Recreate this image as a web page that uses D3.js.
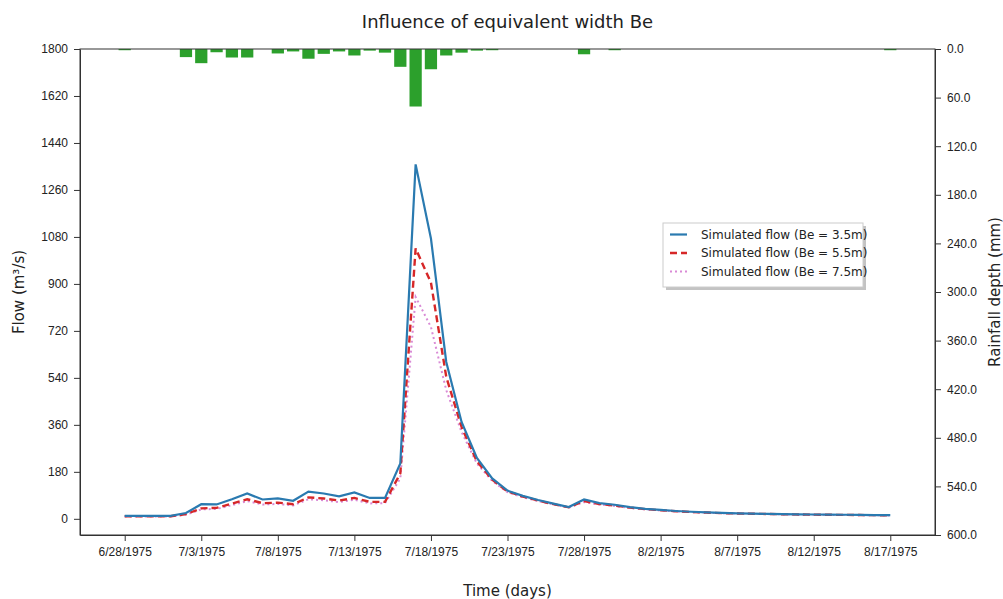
<!DOCTYPE html>
<html>
<head>
<meta charset="utf-8">
<script src="https://cdn.jsdelivr.net/npm/d3@7"></script>
<style>
  body { margin: 0; background: #fff; }
  svg { font-family: "DejaVu Sans", sans-serif; }
  .axis path, .axis line { stroke: #333; }
  .axis text { fill: #222; font-size: 12px; }
</style>
</head>
<body>
<div id="chart"></div>
<script>
// daily dates 6/28/1975 .. 8/17/1975
const dates = [
  "6/28/1975","6/29/1975","6/30/1975","7/1/1975","7/2/1975","7/3/1975","7/4/1975","7/5/1975",
  "7/6/1975","7/7/1975","7/8/1975","7/9/1975","7/10/1975","7/11/1975","7/12/1975","7/13/1975",
  "7/14/1975","7/15/1975","7/16/1975","7/17/1975","7/18/1975","7/19/1975","7/20/1975","7/21/1975",
  "7/22/1975","7/23/1975","7/24/1975","7/25/1975","7/26/1975","7/27/1975","7/28/1975","7/29/1975",
  "7/30/1975","7/31/1975","8/1/1975","8/2/1975","8/3/1975","8/4/1975","8/5/1975","8/6/1975",
  "8/7/1975","8/8/1975","8/9/1975","8/10/1975","8/11/1975","8/12/1975","8/13/1975","8/14/1975",
  "8/15/1975","8/16/1975","8/17/1975"
];

// simulated flow, Be = 3.5 m
const flowBe35 = [
  11, 11, 11, 11, 22, 56, 55, 75, 97, 74, 78, 69, 104, 97, 86, 101,
  80, 80, 212, 1358, 1074, 601, 371, 233, 155, 108, 88, 72, 58, 45, 74, 60,
  54, 45, 38, 34, 30, 27, 25, 23, 21, 20, 19, 18, 17, 16.5, 16, 15.5,
  15, 14.5, 14
];
// simulated flow, Be = 5.5 m
const flowBe55 = [
  10, 10, 10, 10, 18, 40, 42, 58, 75, 60, 62, 56, 82, 78, 70, 80,
  65, 65, 174, 1036, 905, 544, 352, 220, 150, 105, 85, 70, 56, 44, 68, 57,
  51, 43, 37, 33, 29, 26, 24, 22, 20.5, 19.5, 18.5, 17.5, 16.5, 16, 15.5, 15,
  14.5, 14, 13.5
];
// simulated flow, Be = 7.5 m
const flowBe75 = [
  9, 9, 9, 9, 16, 36, 38, 52, 68, 55, 57, 51, 75, 71, 64, 73,
  59, 60, 155, 850, 735, 493, 333, 212, 145, 102, 83, 68, 55, 43, 64, 55,
  49, 42, 36, 32, 28, 25.5, 23.5, 21.5, 20, 19, 18, 17, 16, 15.5, 15, 14.5,
  14, 13.5, 13
];
// daily rainfall depth (mm)
const rainfall = [
  1.5, 0, 0, 0, 10, 17.5, 4, 10.5, 10.5, 0, 5.5, 3, 12, 6, 3, 8,
  2, 4.5, 22, 71, 25, 8, 4.5, 2, 1.5, 0, 0, 0, 0, 0, 6.5, 0,
  1.5, 0, 0, 0, 0, 0, 0, 0, 0, 0, 0, 0, 0, 0, 0, 0,
  0, 0, 1.5
];

const seriesNames = ["Simulated flow (Be = 3.5m)", "Simulated flow (Be = 5.5m)", "Simulated flow (Be = 7.5m)"];
const flowTicks = [0, 180, 360, 540, 720, 900, 1080, 1260, 1440, 1620, 1800];
const rainTicks = [0, 60, 120, 180, 240, 300, 360, 420, 480, 540, 600];

const W = 1003, H = 599;
const margin = {top: 49, right: 68, bottom: 64, left: 80};

const parse = d3.timeParse("%m/%d/%Y");
const days = dates.map(parse);
const DAY = 864e5;

const svg = d3.select("#chart").append("svg")
  .attr("width", W).attr("height", H);

const x = d3.scaleTime()
  .domain([new Date(+days[0] - 2.92 * DAY), new Date(+days[days.length - 1] + 2.92 * DAY)])
  .range([margin.left, W - margin.right]);
const y = d3.scaleLinear().domain([-62, 1800]).range([H - margin.bottom, margin.top]);
const yR = d3.scaleLinear().domain([0, 600]).range([margin.top, H - margin.bottom]);

// rainfall bars hanging from the top
svg.append("g").selectAll("rect")
  .data(rainfall)
  .join("rect")
  .attr("x", (d, i) => x(new Date(+days[i] - 0.4 * DAY)))
  .attr("width", (d, i) => x(new Date(+days[i] + 0.4 * DAY)) - x(new Date(+days[i] - 0.4 * DAY)))
  .attr("y", yR(0))
  .attr("height", d => yR(d) - yR(0))
  .attr("fill", "#2ca02c");

// flow lines
const styles = [
  {data: flowBe35, color: "#2a7ab0", width: 2.2, dash: null},
  {data: flowBe55, color: "#d62728", width: 2.4, dash: "7,4"},
  {data: flowBe75, color: "#d98ad6", width: 2, dash: "2,3"}
];
const line = d3.line().x((d, i) => x(days[i])).y(d => y(d));

styles.slice().reverse().forEach(s => {
  svg.append("path")
    .datum(s.data)
    .attr("fill", "none")
    .attr("stroke", s.color)
    .attr("stroke-width", s.width)
    .attr("stroke-dasharray", s.dash)
    .attr("d", line);
});

// axes
const tickDays = days.filter((d, i) => i % 5 === 0);
svg.append("g").attr("class", "axis")
  .attr("transform", `translate(0,${H - margin.bottom})`)
  .call(d3.axisBottom(x).tickValues(tickDays).tickFormat(d3.timeFormat("%-m/%-d/%Y")).tickSizeOuter(0).tickPadding(6));

svg.append("g").attr("class", "axis")
  .attr("transform", `translate(${margin.left},0)`)
  .call(d3.axisLeft(y).tickValues(flowTicks).tickFormat(d3.format("d")).tickSizeOuter(0).tickPadding(6));

svg.append("g").attr("class", "axis")
  .attr("transform", `translate(${W - margin.right},0)`)
  .call(d3.axisRight(yR).tickValues(rainTicks).tickFormat(d3.format(".1f")).tickSizeOuter(0).tickPadding(6));

// frame
svg.append("rect")
  .attr("x", margin.left).attr("y", margin.top)
  .attr("width", W - margin.left - margin.right)
  .attr("height", H - margin.top - margin.bottom)
  .attr("fill", "none").attr("stroke", "#333");

// titles
svg.append("text")
  .attr("x", (margin.left + W - margin.right) / 2).attr("y", 28)
  .attr("text-anchor", "middle").attr("font-size", 18).attr("fill", "#222")
  .text("Influence of equivalent width Be");

svg.append("text")
  .attr("x", (margin.left + W - margin.right) / 2).attr("y", 596)
  .attr("text-anchor", "middle").attr("font-size", 15).attr("fill", "#222")
  .text("Time (days)");

svg.append("text")
  .attr("transform", `translate(24,${(margin.top + H - margin.bottom) / 2}) rotate(-90)`)
  .attr("text-anchor", "middle").attr("font-size", 15).attr("fill", "#222")
  .text("Flow (m³/s)");

svg.append("text")
  .attr("transform", `translate(1000,${(margin.top + H - margin.bottom) / 2}) rotate(-90)`)
  .attr("text-anchor", "middle").attr("font-size", 15).attr("fill", "#222")
  .text("Rainfall depth (mm)");

// legend
const lg = svg.append("g").attr("transform", "translate(663,223)");
lg.append("rect").attr("x", 3).attr("y", 3).attr("width", 200).attr("height", 64)
  .attr("fill", "#888").attr("opacity", 0.5);
lg.append("rect").attr("width", 200).attr("height", 64)
  .attr("fill", "#fff").attr("stroke", "#ccc");
styles.forEach((s, i) => {
  const yy = 11.5 + i * 18.5;
  lg.append("line")
    .attr("x1", 7).attr("x2", 24).attr("y1", yy).attr("y2", yy)
    .attr("stroke", s.color).attr("stroke-width", s.width)
    .attr("stroke-dasharray", s.dash);
  lg.append("text")
    .attr("x", 38).attr("y", yy + 4)
    .attr("font-size", 12).attr("fill", "#222")
    .text(seriesNames[i]);
});
</script>
</body>
</html>
